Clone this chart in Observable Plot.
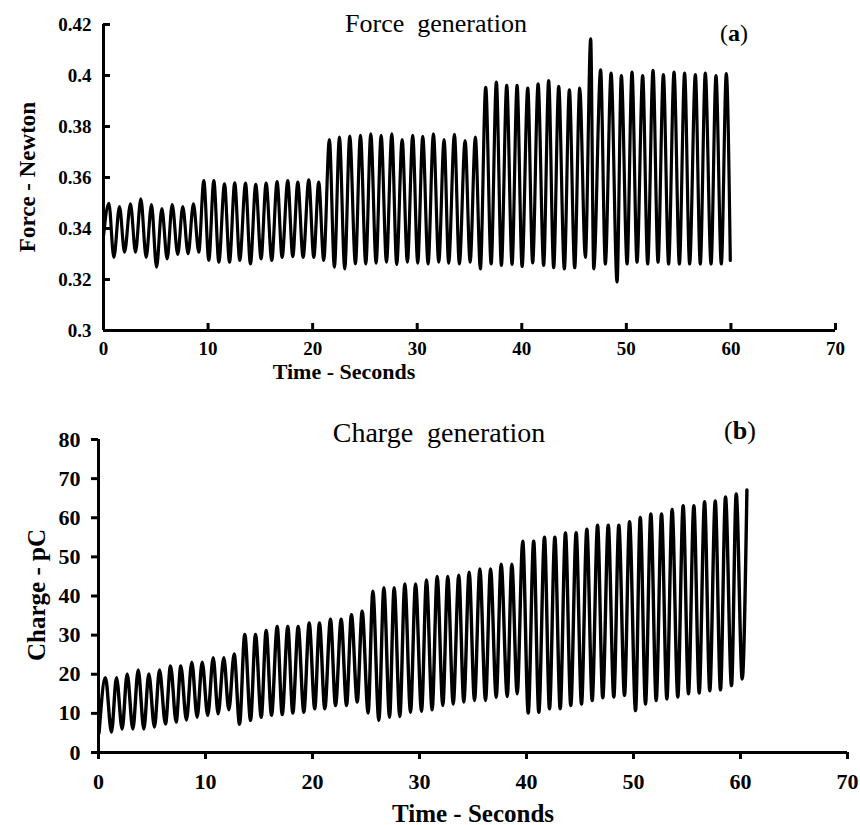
<!DOCTYPE html>
<html>
<head>
<meta charset="utf-8">
<script src="https://cdn.jsdelivr.net/npm/d3@7"></script>
<script src="https://cdn.jsdelivr.net/npm/@observablehq/plot@0.6"></script>
<style>
  html, body { margin: 0; padding: 0; background: #fff; }
  #wrap { position: relative; width: 860px; height: 825px; overflow: hidden; font-family: "Liberation Serif", "Times New Roman", serif; color: #000; }
  .panel { position: absolute; left: 0; }
  .txt { position: absolute; transform: translate(-50%, -50%); white-space: pre; line-height: 1; }
  .rot { transform: translate(-50%, -50%) rotate(-90deg); }
  .b { font-weight: bold; }
</style>
</head>
<body>
<div id="wrap">
  <div id="pa" class="panel" style="top:0"></div>
  <div id="pb" class="panel" style="top:390px"></div>
  <div class="txt" style="left:436px; top:24px; font-size:26px;">Force  generation</div>
  <div class="txt" style="left:734px; top:33px; font-size:24px;">(<span class="b">a</span>)</div>
  <div class="txt b" style="left:344px; top:372px; font-size:22px;">Time - Seconds</div>
  <div class="txt b rot" style="left:27px; top:177px; font-size:23px;">Force - Newton</div>
  <div class="txt" style="left:439px; top:433px; font-size:28px;">Charge  generation</div>
  <div class="txt" style="left:740px; top:431px; font-size:26px;">(<span class="b">b</span>)</div>
  <div class="txt b" style="left:473px; top:813px; font-size:25px;">Time - Seconds</div>
  <div class="txt b rot" style="left:36px; top:595px; font-size:25px;">Charge - pC</div>
</div>
<script>
// ---------- Panel (a): Force generation ----------
const forcePeakTime = [0.51,1.53,2.58,3.57,4.59,5.58,6.57,7.58,8.60,9.59,10.55,11.57,12.55,13.58,14.56,15.55,16.60,17.62,18.58,19.63,20.58,21.60,22.56,23.55,24.57,25.56,26.55,27.57,28.56,29.57,30.53,31.55,32.57,33.56,34.58,35.56,36.55,37.57,38.56,39.55,40.57,41.56,42.57,43.53,44.55,45.54,46.59,47.54,48.54,49.52,50.54,51.56,52.55,53.54,54.56,55.57,56.60,57.55,58.57,59.56];
const forcePeakValue = [0.3499,0.3486,0.3497,0.3516,0.3494,0.3478,0.3494,0.3486,0.3497,0.3588,0.3588,0.3575,0.3579,0.3578,0.3573,0.3578,0.3584,0.3588,0.3582,0.3591,0.3582,0.3749,0.3758,0.3762,0.3765,0.3771,0.3765,0.3771,0.3749,0.3765,0.3761,0.3771,0.3749,0.3769,0.3745,0.3758,0.3954,0.3974,0.3961,0.3961,0.3951,0.3967,0.3980,0.3957,0.3944,0.3951,0.4144,0.4022,0.4009,0.4000,0.4013,0.4000,0.4020,0.4004,0.4013,0.4009,0.4004,0.4009,0.4000,0.4007];
const forceTroughTime = [0.00,0.99,2.01,3.06,4.08,5.07,6.09,7.10,8.09,9.11,10.07,11.03,12.05,13.03,14.05,15.07,16.09,17.08,18.10,19.09,20.11,21.06,22.08,23.07,24.09,25.08,26.07,27.06,28.04,29.06,30.05,31.04,32.06,33.01,34.03,35.06,36.04,37.07,38.05,39.07,40.03,41.04,42.09,43.05,44.07,45.06,46.08,46.88,47.99,49.11,50.07,51.02,52.04,53.03,54.04,55.07,56.05,57.07,58.10,59.08,59.94];
const forceTroughValue = [0.3370,0.3287,0.3307,0.3307,0.3287,0.3248,0.3281,0.3298,0.3301,0.3307,0.3275,0.3268,0.3268,0.3275,0.3261,0.3281,0.3275,0.3287,0.3290,0.3287,0.3287,0.3275,0.3248,0.3242,0.3261,0.3261,0.3264,0.3268,0.3259,0.3268,0.3264,0.3261,0.3268,0.3264,0.3261,0.3268,0.3242,0.3261,0.3255,0.3259,0.3251,0.3265,0.3255,0.3246,0.3242,0.3246,0.3287,0.3242,0.3261,0.3190,0.3261,0.3268,0.3261,0.3268,0.3261,0.3261,0.3261,0.3261,0.3261,0.3261,0.3275];
const forceXTicks = [0,10,20,30,40,50,60,70];
const forceYTicks = [0.30,0.32,0.34,0.36,0.38,0.40,0.42];
const forceYTickLabels = ["0.3","0.32","0.34","0.36","0.38","0.4","0.42"];

// ---------- Panel (b): Charge generation ----------
const chargePeakTime = [0.65,1.68,2.68,3.71,4.70,5.70,6.73,7.69,8.72,9.69,10.72,11.71,12.68,13.67,14.67,15.67,16.70,17.69,18.66,19.69,20.65,21.68,22.68,23.64,24.64,25.64,26.67,27.63,28.63,29.63,30.65,31.65,32.64,33.67,34.64,35.64,36.64,37.63,38.63,39.65,40.67,41.68,42.65,43.64,44.64,45.64,46.64,47.64,48.63,49.63,50.63,51.62,52.62,53.61,54.64,55.64,56.64,57.64,58.60,59.60,60.60];
const chargePeakValue = [19.1,19.1,20.1,21.1,20.1,21.1,22.1,22.1,23.1,23.1,24.2,24.2,25.2,30.2,30.2,31.2,32.2,32.2,32.2,33.1,33.1,34.1,34.1,35.2,36.1,41.2,42.1,42.1,43.1,43.1,44.1,45.0,45.0,45.3,46.1,46.9,46.9,48.1,48.1,54.0,54.0,55.0,55.0,56.1,56.2,57.1,58.1,58.1,58.1,59.0,60.1,61.0,61.0,62.1,63.1,63.1,64.1,64.3,65.3,66.1,67.1];
const chargeTroughTime = [0.05,1.21,2.21,3.21,4.24,5.23,6.26,7.26,8.22,9.22,10.21,11.18,12.18,13.18,14.21,15.21,16.17,17.17,18.16,19.19,20.21,21.15,22.15,23.18,24.18,25.20,26.20,27.20,28.16,29.16,30.19,31.18,32.18,33.15,34.14,35.14,36.17,37.17,38.20,39.13,40.16,41.15,42.15,43.15,44.14,45.14,46.14,47.13,48.16,49.16,50.19,51.12,52.12,53.12,54.14,55.14,56.14,57.13,58.13,59.16,60.16];
const chargeTroughValue = [5.0,5.2,6.0,6.0,6.0,6.5,7.3,7.8,8.3,9.0,9.5,9.9,10.9,7.2,8.2,9.0,9.5,9.7,10.1,10.3,11.2,11.2,12.0,12.0,12.9,10.1,8.2,9.0,9.2,10.3,10.5,10.9,12.0,12.4,12.9,13.3,13.3,14.1,14.3,15.0,10.1,10.3,11.2,11.2,12.0,12.4,13.3,14.0,14.2,14.6,10.7,12.4,13.3,13.7,14.2,15.0,15.2,15.8,16.0,17.1,18.8];
const chargeXTicks = [0,10,20,30,40,50,60,70];
const chargeYTicks = [0,10,20,30,40,50,60,70,80];

// merge peaks and troughs into one time-ordered series
function merge(pt, pv, tt, tv) {
  const rows = pt.map((t, i) => ({t, v: pv[i]})).concat(tt.map((t, i) => ({t, v: tv[i]})));
  return rows.sort((a, b) => a.t - b.t);
}
const forceRows = merge(forcePeakTime, forcePeakValue, forceTroughTime, forceTroughValue);
const chargeRows = merge(chargePeakTime, chargePeakValue, chargeTroughTime, chargeTroughValue);

const font = '"Liberation Serif", "Times New Roman", serif';

const plotA = Plot.plot({
  width: 860, height: 390,
  marginTop: 24, marginBottom: 60, marginLeft: 103, marginRight: 25,
  style: {fontFamily: font, fontWeight: "bold", fontSize: "19px", color: "#000", background: "transparent"},
  x: {domain: [0, 70], label: null},
  y: {domain: [0.30, 0.42], label: null},
  marks: [
    Plot.axisX(forceXTicks, {tickSize: 7, dy: -7, fill: "none", strokeWidth: 3, label: null}),
    Plot.axisX(forceXTicks, {tickSize: 0, tickPadding: 11, label: null, tickFormat: d => String(d)}),
    Plot.axisY(forceYTicks, {tickSize: 7, dx: 7, fill: "none", strokeWidth: 3, label: null}),
    Plot.axisY(forceYTicks, {tickSize: 0, tickPadding: 12, label: null, tickFormat: (d, i) => forceYTickLabels[i]}),
    Plot.ruleY([0.30], {strokeWidth: 3}),
    Plot.ruleX([0], {strokeWidth: 3}),
    Plot.line(forceRows, {x: "t", y: "v", curve: "monotone-x", stroke: "#000", strokeWidth: 3.2})
  ]
});
document.getElementById("pa").appendChild(plotA);

const plotB = Plot.plot({
  width: 860, height: 435,
  marginTop: 49, marginBottom: 73, marginLeft: 98, marginRight: 13,
  style: {fontFamily: font, fontWeight: "bold", fontSize: "22px", color: "#000", background: "transparent"},
  x: {domain: [0, 70], label: null},
  y: {domain: [0, 80], label: null},
  marks: [
    Plot.axisX(chargeXTicks, {tickSize: 7, tickPadding: 14, strokeWidth: 3, label: null, tickFormat: d => String(d)}),
    Plot.axisY(chargeYTicks, {tickSize: 7, tickPadding: 11, strokeWidth: 3, label: null, tickFormat: d => String(d)}),
    Plot.ruleY([0], {strokeWidth: 3}),
    Plot.ruleX([0], {strokeWidth: 3}),
    Plot.line(chargeRows, {x: "t", y: "v", curve: "monotone-x", stroke: "#000", strokeWidth: 3.4})
  ]
});
document.getElementById("pb").appendChild(plotB);
</script>
</body>
</html>
